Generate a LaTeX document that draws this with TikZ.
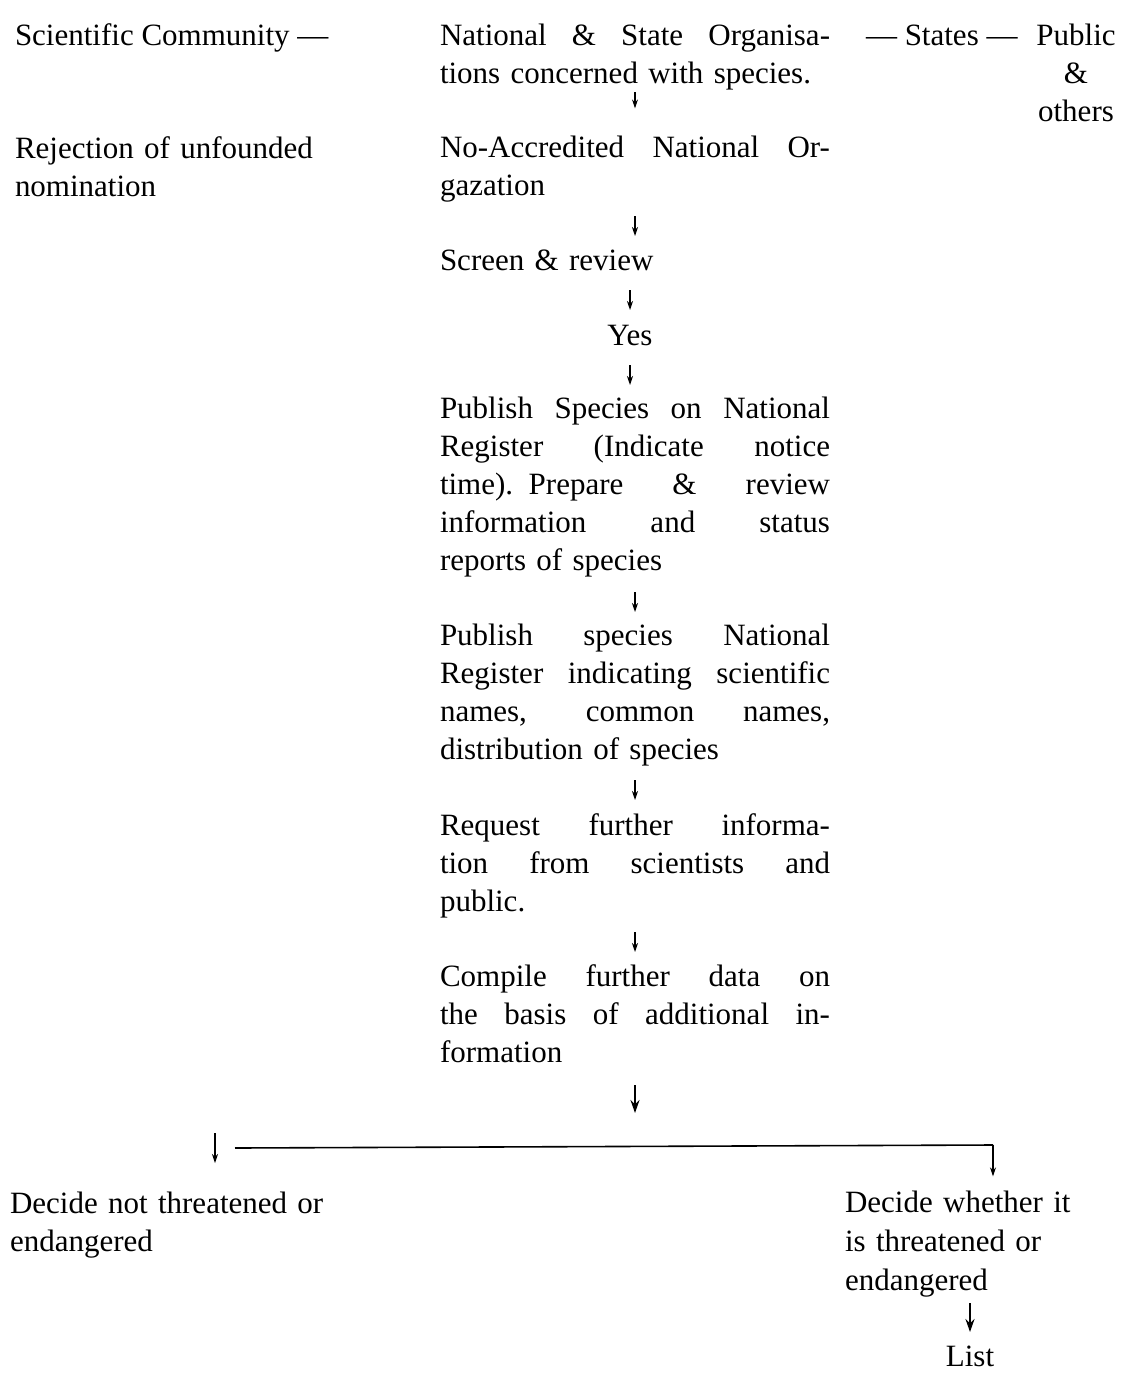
\documentclass[tikz,border=0pt]{standalone}
\usepackage{fontspec}
\setmainfont{Liberation Serif}
\usetikzlibrary{arrows.meta}
\newlength{\colw}\setlength{\colw}{390pt}
\newcommand{\jl}[1]{{\spaceskip=.25em plus 1fil\relax\makebox[\colw][s]{#1}}}
\begin{document}
\begin{tikzpicture}[x=1pt,y=-1pt,
  txt/.style={inner sep=0pt, outer sep=0pt, anchor=base west, align=left,
    font=\fontsize{31}{38}\selectfont,
    execute at begin node=\strut, execute at end node=\strut},
  col/.style={txt, text width=\colw},
  arr/.style={line width=1.1pt, -{Stealth[length=9pt,width=6pt]}},
  bigarr/.style={line width=2pt, -{Stealth[length=13pt,width=9pt]}},
  hrule/.style={line width=1.6pt}]
\useasboundingbox (0,0) rectangle (1128,1382);

% left column
\node[txt] (sci) at (15,45) {Scientific Community ---};
\node[txt, text width=340pt] (rej) at (15,158) {Rejection of unfounded\\nomination};
\node[txt, text width=360pt] (notthr) at (10,1213) {Decide not threatened or\\endangered};

% centre column
\node[col] (org) at (440,45) {\jl{National \& State Organisa-}\\tions concerned with species.};
\node[col] (noacc) at (440,157) {\jl{No-Accredited National Or-}\\gazation};
\node[col] (screen) at (440,270) {Screen \& review};
\node[txt, anchor=base] (yes) at (630,345) {Yes};
\node[col] (pubA) at (440,418) {\jl{Publish Species on National}\\\jl{Register (Indicate notice}\\\jl{time). Prepare \& review}\\\jl{information and status}\\reports of species};
\node[col] (pubB) at (440,645) {\jl{Publish species National}\\\jl{Register indicating scientific}\\\jl{names, common names,}\\distribution of species};
\node[col] (req) at (440,835) {\jl{Request further informa-}\\\jl{tion from scientists and}\\public.};
\node[col] (comp) at (440,986) {\jl{Compile further data on}\\\jl{the basis of additional in-}\\formation};

% right column
\node[txt] (states) at (866,45) {--- States ---};
\node[txt, anchor=base, align=center, text width=90pt] (public) at (1076,45) {Public\\\&\\others};
\node[txt, text width=250pt, font=\fontsize{31}{39}\selectfont] (whether) at (845,1212) {Decide whether it\\is threatened or\\endangered};
\node[txt, anchor=base] (list) at (970,1366) {List};

% coordinates for the split
\coordinate (jn) at (632,1147);
\coordinate (hl) at (235,1148);
\coordinate (hr) at (993,1145);
\coordinate (lt) at (215,1133);

% connectors
\draw[arr, shorten <=-2pt, shorten >=22pt] (org.south) -- (noacc.north);
\draw[arr, shorten <=9.6pt, shorten >=7.4pt] (noacc.south) -- (screen.north);
\draw[arr, shorten <=8.6pt, shorten >=8.4pt] (yes.north |- screen.south) -- (yes.north);
\draw[arr, shorten <=8.6pt, shorten >=6.4pt] (yes.south) -- (yes.south |- pubA.north);
\draw[arr, shorten <=10.6pt, shorten >=6.4pt] (pubA.south) -- (pubB.north);
\draw[arr, shorten <=9.6pt, shorten >=8.4pt] (pubB.south) -- (req.north);
\draw[arr, shorten <=9.6pt, shorten >=7.4pt] (req.south) -- (comp.north);
\draw[bigarr, shorten <=11.6pt, shorten >=34pt] (comp.south) -- (comp.south |- jn);
\draw[hrule] (hl) -- (hr);
\draw[arr, shorten >=8.4pt] (hr) -- (hr |- whether.north);
\draw[arr, shorten >=23.4pt] (lt) -- (lt |- notthr.north);
\draw[bigarr, shorten <=1.6pt, shorten >=7.4pt] (list.north |- whether.south) -- (list.north);
\end{tikzpicture}
\end{document}
